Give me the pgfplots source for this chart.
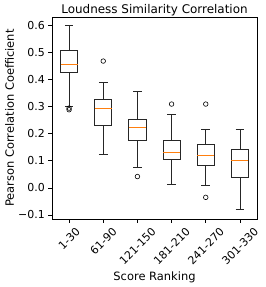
\documentclass[border=0pt]{standalone}
\usepackage{pgfplots}
\pgfplotsset{compat=1.18}
\usepgfplotslibrary{statistics}
\usepackage{fontspec}
\setmainfont{DejaVu Sans}
\definecolor{mplorange}{HTML}{FF7F0E}
\begin{document}
\begin{tikzpicture}
\begin{axis}[
  width=205bp, height=202bp, scale only axis,
  xmin=0.5, xmax=6.5, ymin=-0.115, ymax=0.632,
  xtick={1,2,3,4,5,6},
  xticklabels={1-30,61-90,121-150,181-210,241-270,301-330},
  ytick={-0.1,0,0.1,0.2,0.3,0.4,0.5,0.6},
  yticklabels={−0.1,0.0,0.1,0.2,0.3,0.4,0.5,0.6},
  xticklabel style={xshift={ifthenelse(\ticknum==0,6.0,ifthenelse(\ticknum==1,8.5,13.4))*1bp}, yshift=-4.5bp, rotate=45, anchor=north east, inner sep=0pt, font=\fontsize{11}{13}\selectfont},
  yticklabel style={anchor=east, inner sep=0pt, xshift=-3.5bp, font=\fontsize{11}{13}\selectfont},
  tick align=outside, tick pos=left,
  major tick length=3.5bp,
  tick style={line width=0.8bp, black},
  every axis title shift=0pt,
  title={Loudness Similarity Correlation},
  title style={font=\fontsize{12}{14}\selectfont, at={(axis description cs:0.5,1.017)}, anchor=base, inner sep=0pt},
  xlabel={Score Ranking},
  ylabel={Pearson Correlation Coefficient},
  xlabel style={font=\fontsize{11.5}{13}\selectfont, at={(axis description cs:0.5,-0.302)}, anchor=base, inner sep=0pt},
  ylabel style={font=\fontsize{11.5}{13}\selectfont, at={(axis description cs:-0.207,0.5)}, anchor=center, inner sep=0pt},
  boxplot/draw direction=y,
  boxplot/every median/.style={draw=mplorange, line width=1bp},
  axis line style={line width=0.8bp},
]
\addplot[black!85, line width=0.8bp, mark=o, mark size=2.3bp, mark options={black, line width=0.6bp}, boxplot prepared={lower whisker=0.303, lower quartile=0.426, median=0.458, upper quartile=0.509, upper whisker=0.600, draw position=1, box extend=0.5, whisker extend=0.25}] table[row sep=\\, y index=0] {0.289\\0.295\\};
\addplot[black!85, line width=0.8bp, mark=o, mark size=2.3bp, mark options={black, line width=0.6bp}, boxplot prepared={lower whisker=0.123, lower quartile=0.232, median=0.294, upper quartile=0.328, upper whisker=0.389, draw position=2, box extend=0.5, whisker extend=0.25}] table[row sep=\\, y index=0] {0.469\\};
\addplot[black!85, line width=0.8bp, mark=o, mark size=2.3bp, mark options={black, line width=0.6bp}, boxplot prepared={lower whisker=0.074, lower quartile=0.177, median=0.224, upper quartile=0.254, upper whisker=0.358, draw position=3, box extend=0.5, whisker extend=0.25}] table[row sep=\\, y index=0] {0.042\\};
\addplot[black!85, line width=0.8bp, mark=o, mark size=2.3bp, mark options={black, line width=0.6bp}, boxplot prepared={lower whisker=0.012, lower quartile=0.105, median=0.131, upper quartile=0.175, upper whisker=0.273, draw position=4, box extend=0.5, whisker extend=0.25}] table[row sep=\\, y index=0] {0.310\\};
\addplot[black!85, line width=0.8bp, mark=o, mark size=2.3bp, mark options={black, line width=0.6bp}, boxplot prepared={lower whisker=0.008, lower quartile=0.084, median=0.121, upper quartile=0.160, upper whisker=0.218, draw position=5, box extend=0.5, whisker extend=0.25}] table[row sep=\\, y index=0] {0.310\\-0.035\\};
\addplot[black!85, line width=0.8bp, mark=o, mark size=2.3bp, mark options={black, line width=0.6bp}, boxplot prepared={lower whisker=-0.078, lower quartile=0.040, median=0.100, upper quartile=0.143, upper whisker=0.218, draw position=6, box extend=0.5, whisker extend=0.25}] coordinates {};
\end{axis}
\pgfresetboundingbox
\path ([xshift=-52bp,yshift=-68bp]current axis.south west) rectangle ([xshift=9bp,yshift=17bp]current axis.north east);
\end{tikzpicture}
\end{document}
